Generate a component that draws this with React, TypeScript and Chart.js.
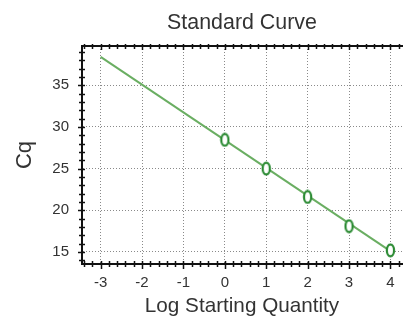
import React, { useEffect, useRef } from "react";
import { Chart, registerables } from "chart.js";

Chart.register(...registerables);

// Data
const logQuantity = [0, 1, 2, 3, 4];
const cqValues = [28.45, 25.0, 21.6, 18.1, 15.2];
const fitLineX = [-3, 4];
const fitLineY = [38.4, 15.1];
const xTickValues = [-3, -2, -1, 0, 1, 2, 3, 4];
const yTickValues = [15, 20, 25, 30, 35];
const chartTitle = "Standard Curve";

const FONT = "'Liberation Sans', Arial, Helvetica, sans-serif";

function makeRing(): HTMLCanvasElement {
  const c = document.createElement("canvas");
  c.width = 11;
  c.height = 15;
  const ctx = c.getContext("2d")!;
  ctx.fillStyle = "#ffffff";
  ctx.strokeStyle = "#2a8a32";
  ctx.lineWidth = 2.2;
  ctx.beginPath();
  ctx.ellipse(5.5, 7.5, 3.6, 5.8, 0, 0, Math.PI * 2);
  ctx.fill();
  ctx.stroke();
  return c;
}

const frameTicks = {
  id: "frameTicks",
  afterDatasetsDraw(chart: any) {
    const { ctx, chartArea, scales } = chart;
    const x = scales.x;
    const y = scales.y;
    ctx.save();
    ctx.strokeStyle = "#111";
    ctx.lineWidth = 1.5;
    for (let i = Math.ceil(x.min * 5); i <= Math.floor(x.max * 5); i++) {
      const v = i / 5;
      const px = Math.round(x.getPixelForValue(v)) + 0.5;
      const major = i % 5 === 0;
      ctx.beginPath();
      ctx.moveTo(px, chartArea.bottom - 3);
      ctx.lineTo(px, chartArea.bottom + (major ? 5 : 3));
      ctx.moveTo(px, chartArea.top - 2);
      ctx.lineTo(px, chartArea.top + (major ? 4 : 3));
      ctx.stroke();
    }
    for (let i = Math.ceil(y.min); i <= Math.floor(y.max); i++) {
      const py = Math.round(y.getPixelForValue(i)) + 0.5;
      const major = i % 5 === 0;
      ctx.beginPath();
      ctx.moveTo(chartArea.left - (major ? 4 : 3), py);
      ctx.lineTo(chartArea.left + 3, py);
      ctx.stroke();
    }
    ctx.restore();
  },
};

export default function App() {
  const ref = useRef<HTMLCanvasElement>(null);
  useEffect(() => {
    const ring = makeRing();
    const chart = new Chart(ref.current!, {
      type: "scatter",
      data: {
        datasets: [
          {
            type: "line",
            data: fitLineX.map((v, i) => ({ x: v, y: fitLineY[i] })),
            borderColor: "#6aae62",
            borderWidth: 2,
            pointRadius: 0,
            fill: false,
            order: 2,
          },
          {
            type: "scatter",
            data: logQuantity.map((v, i) => ({ x: v, y: cqValues[i] })),
            pointStyle: ring as any,
            pointRadius: 5,
            order: 1,
          },
        ],
      },
      options: {
        animation: false,
        responsive: true,
        maintainAspectRatio: false,
        layout: { padding: 0 },
        plugins: {
          legend: { display: false },
          tooltip: { enabled: false },
          title: { display: false },
        },
        scales: {
          x: {
            type: "linear",
            position: "bottom",
            min: -3.45,
            max: 4.28,
            afterBuildTicks: (axis: any) => {
              axis.ticks = xTickValues.map((v) => ({ value: v }));
            },
            afterFit: (s: any) => {
              s.height = 53;
            },
            ticks: {
              color: "#333",
              font: { family: FONT, size: 15 },
              padding: 10,
              maxRotation: 0,
              callback: (v: any) => String(v),
            },
            grid: {
              color: "#8a8a8a",
              lineWidth: 1,
              drawTicks: false,
            },
            border: { display: true, color: "#111", width: 2, dash: [1, 2] } as any,
            title: {
              display: true,
              text: "Log Starting Quantity",
              color: "#333",
              font: { family: FONT, size: 20.7, lineHeight: 1.2 },
              padding: { top: 0, bottom: -2 },
            },
          },
          x2: {
            type: "linear",
            position: "top",
            min: -3.45,
            max: 4.28,
            afterFit: (s: any) => {
              s.height = 46;
            },
            ticks: { display: false },
            grid: { drawOnChartArea: false, drawTicks: false },
            border: { display: true, color: "#111", width: 2 },
            title: {
              display: true,
              text: chartTitle,
              color: "#333",
              font: { family: FONT, size: 21.4, lineHeight: 1.2 },
              padding: { top: 10, bottom: 0 },
            },
          },
          y: {
            type: "linear",
            min: 13.56,
            max: 39.7,
            afterBuildTicks: (axis: any) => {
              axis.ticks = yTickValues.map((v) => ({ value: v }));
            },
            afterFit: (s: any) => {
              s.width = 82;
            },
            ticks: {
              color: "#333",
              font: { family: FONT, size: 15 },
              padding: 13,
            },
            grid: {
              color: "#8a8a8a",
              lineWidth: 1,
              drawTicks: false,
            },
            border: { display: true, color: "#111", width: 2, dash: [1, 2] } as any,
            title: {
              display: true,
              text: "Cq",
              color: "#333",
              font: { family: FONT, size: 22, lineHeight: 1.2 },
              padding: { top: 12, bottom: 0 },
            },
          },
        },
      } as any,
      plugins: [frameTicks],
    });
    return () => chart.destroy();
  }, []);
  return (
    <div style={{ position: "fixed", left: 0, top: 0, width: 408, height: 317, background: "#fff" }}>
      <canvas ref={ref} />
    </div>
  );
}
